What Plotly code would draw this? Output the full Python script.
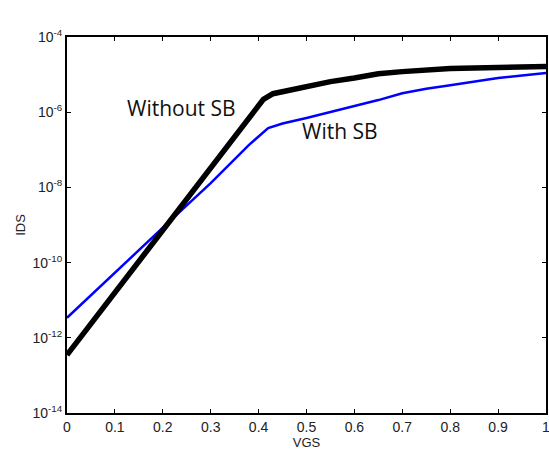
import plotly.graph_objects as go

vgs_wo = [0.0, 0.1, 0.2, 0.3, 0.38, 0.41, 0.43, 0.46, 0.5, 0.55, 0.6, 0.65, 0.7, 0.75, 0.8, 0.85, 0.9, 0.95, 1.0]
ids_wo = [3.5e-13, 1.6e-11, 7.2e-10, 3.3e-8, 7.0e-7, 2.2e-6, 3.1e-6, 3.8e-6, 5.0e-6, 6.5e-6, 8.1e-6, 1.05e-5, 1.2e-5, 1.35e-5, 1.45e-5, 1.5e-5, 1.55e-5, 1.6e-5, 1.65e-5]

vgs_w = [0.0, 0.1, 0.2, 0.3, 0.38, 0.42, 0.45, 0.5, 0.55, 0.6, 0.65, 0.7, 0.75, 0.8, 0.85, 0.9, 0.95, 1.0]
ids_w = [3.4e-12, 5.5e-11, 8.5e-10, 1.3e-8, 1.35e-7, 3.8e-7, 5.0e-7, 7.0e-7, 1.0e-6, 1.45e-6, 2.1e-6, 3.2e-6, 4.2e-6, 5.2e-6, 6.5e-6, 8.1e-6, 9.5e-6, 1.1e-5]

x_ticks = [0, 0.1, 0.2, 0.3, 0.4, 0.5, 0.6, 0.7, 0.8, 0.9, 1]
x_labels = ["0", "0.1", "0.2", "0.3", "0.4", "0.5", "0.6", "0.7", "0.8", "0.9", "1"]
y_ticks = [1e-14, 1e-12, 1e-10, 1e-8, 1e-6, 1e-4]
y_labels = ["10<sup>-14</sup>", "10<sup>-12</sup>", "10<sup>-10</sup>", "10<sup>-8</sup>", "10<sup>-6</sup>", "10<sup>-4</sup>"]

tick_font = dict(family="Liberation Sans", size=14, color="#222")

fig = go.Figure()
fig.add_trace(go.Scatter(x=vgs_w, y=ids_w, mode="lines", line=dict(color="#0000ff", width=2.5), name="With SB"))
fig.add_trace(go.Scatter(x=vgs_wo, y=ids_wo, mode="lines", line=dict(color="#000000", width=5.5), name="Without SB"))

axis_common = dict(showline=True, linecolor="black", linewidth=2, mirror="ticks",
                   ticks="inside", ticklen=4, tickcolor="black", showgrid=False, zeroline=False,
                   tickfont=tick_font, automargin=False, ticklabeloverflow="allow")

fig.update_xaxes(range=[0, 1], tickvals=x_ticks, ticktext=x_labels,
                 title=dict(text="VGS", font=dict(family="Liberation Sans", size=13, color="#222"), standoff=2),
                 **axis_common)
fig.update_yaxes(type="log", range=[-14, -4], tickvals=y_ticks, ticktext=y_labels,
                 title=dict(text="IDS", font=dict(family="Liberation Sans", size=13, color="#222"), standoff=4),
                 **axis_common)

fig.add_annotation(x=0.24, y=-5.9, xref="x", yref="y", text="Without SB", showarrow=False,
                   font=dict(family="Open Sans", size=21, color="#111"))
fig.add_annotation(x=0.57, y=-6.49, xref="x", yref="y", text="With SB", showarrow=False,
                   font=dict(family="Open Sans", size=21, color="#111"))

fig.update_layout(width=549, height=452, margin=dict(l=67, r=3, t=37, b=39),
                  paper_bgcolor="white", plot_bgcolor="white", showlegend=False)
fig.write_html("out.html", config={"displayModeBar": False},
               post_script="document.body.style.margin='0';document.body.style.padding='0';")
